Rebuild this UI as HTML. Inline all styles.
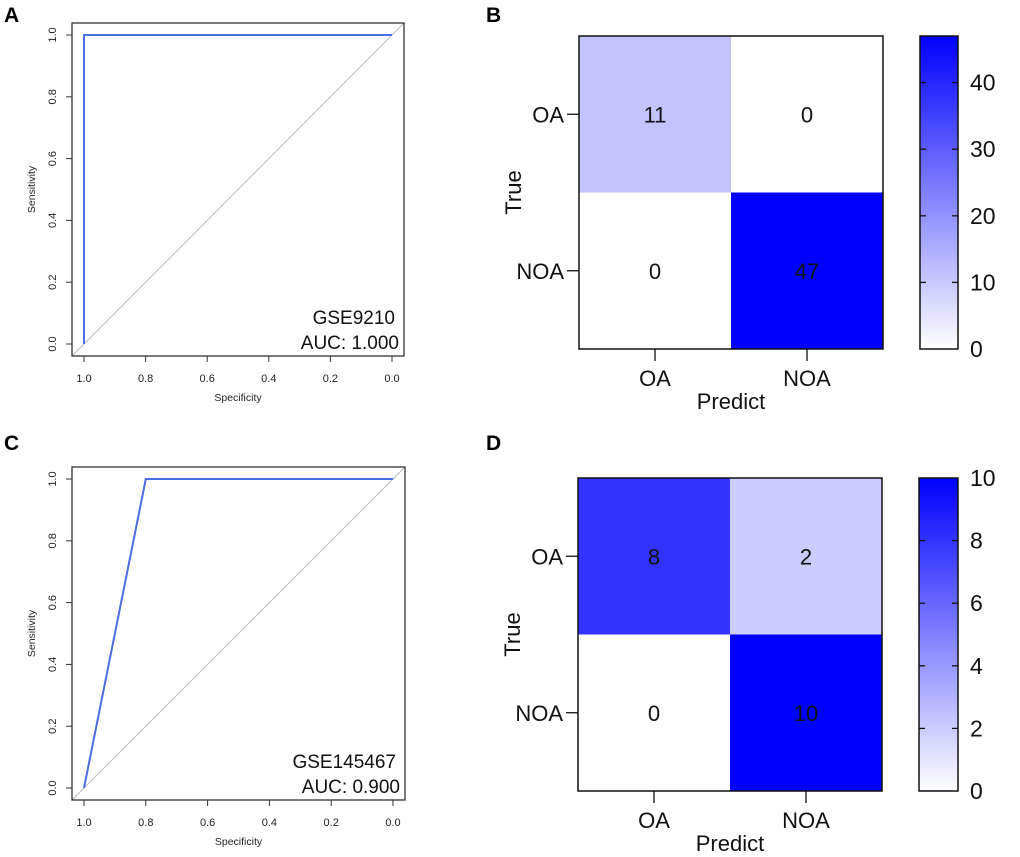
<!DOCTYPE html>
<html><head><meta charset="utf-8"><style>
html,body{margin:0;padding:0;background:#fff}
svg{display:block;font-family:"Liberation Sans",Arial,sans-serif}
</style></head><body>
<svg id="fig" width="1020" height="857" viewBox="0 0 1020 857" xmlns="http://www.w3.org/2000/svg">
<defs>
<linearGradient id="cbar" x1="0" y1="1" x2="0" y2="0"><stop offset="0" stop-color="#fff"/><stop offset="1" stop-color="#0000ff"/></linearGradient>
</defs>
<text x="4" y="22" font-size="21" font-weight="bold">A</text>
<text x="486" y="22" font-size="21" font-weight="bold">B</text>
<text x="4" y="450" font-size="21" font-weight="bold">C</text>
<text x="486" y="450" font-size="21" font-weight="bold">D</text>
</svg>
<script>
// ROC data
const rocSpecA = [1.0, 1.0, 0.0];
const rocSensA = [0.0, 1.0, 1.0];
const rocSpecC = [1.0, 0.8, 0.0];
const rocSensC = [0.0, 1.0, 1.0];
const rocTicks = [1.0, 0.8, 0.6, 0.4, 0.2, 0.0];
const rocTickLabels = ["1.0", "0.8", "0.6", "0.4", "0.2", "0.0"];
// Confusion matrices (rows: True OA, NOA; cols: Predict OA, NOA)
const classLabels = ["OA", "NOA"];
const cmB = [[11, 0], [0, 47]];
const cmD = [[8, 2], [0, 10]];
const cbTicksB = [0, 10, 20, 30, 40];
const cbTicksD = [0, 2, 4, 6, 8, 10];

const NS = "http://www.w3.org/2000/svg";
const svg = document.getElementById("fig");
function el(tag, attrs, parent) {
  const e = document.createElementNS(NS, tag);
  for (const k in attrs) e.setAttribute(k, attrs[k]);
  (parent || svg).appendChild(e);
  return e;
}

function roc(box, spec, sens, dataset, auc, key) {
  const g = el("g", {});
  
  
  const x0 = box.x + 12, x1 = box.x + box.w - 12;
  const y0 = box.y + box.h - 12, y1 = box.y + 12;
  const sx = v => x0 + (1 - v) * (x1 - x0);
  const sy = v => y0 - v * (y0 - y1);
  const diag = el("line", {x1: sx(1.04), y1: sy(-0.04), x2: sx(-0.04), y2: sy(1.04), stroke: "#bdbdbd", "stroke-width": 1}, g);
  
  
  const pts = spec.map((s, i) => sx(s) + "," + sy(sens[i])).join(" ");
  const line = el("polyline", {points: pts, fill: "none", stroke: "#4a6fe3", "stroke-width": 2}, g);
  
  
  const frame = el("rect", {x: box.x, y: box.y, width: box.w, height: box.h, fill: "none", stroke: "#333", "stroke-width": 1.3}, g);
  
  
  rocTicks.forEach((t, i) => {
    el("line", {x1: sx(t), y1: box.y + box.h, x2: sx(t), y2: box.y + box.h + 6, stroke: "#333"}, g);
    const xl = el("text", {x: sx(t), y: box.y + box.h + 26, "font-size": 11, "text-anchor": "middle", fill: "#222"}, g);
    xl.textContent = rocTickLabels[i];
    
    
    el("line", {x1: box.x, y1: sy(t), x2: box.x - 6, y2: sy(t), stroke: "#333"}, g);
    const yl = el("text", {x: 0, y: 0, "font-size": 11, "text-anchor": "middle", fill: "#222", transform: `translate(${box.x - 16},${sy(t)}) rotate(-90)`}, g);
    yl.textContent = rocTickLabels[i];
    
    
  });
  const xt = el("text", {x: box.x + box.w / 2, y: box.y + box.h + 45, "font-size": 10.5, "text-anchor": "middle", fill: "#222"}, g);
  xt.textContent = "Specificity";
  
  
  const yt = el("text", {x: 0, y: 0, "font-size": 10.5, "text-anchor": "middle", fill: "#222", transform: `translate(${box.x - 37},${box.y + box.h / 2}) rotate(-90)`}, g);
  yt.textContent = "Sensitivity";
  
  
  const d1 = el("text", {x: box.x + box.w - 9, y: box.y + box.h - 32, "font-size": 19, "text-anchor": "end", fill: "#111"}, g);
  d1.textContent = dataset;
  
  
  const d2 = el("text", {x: box.x + box.w - 5, y: box.y + box.h - 7, "font-size": 19, "text-anchor": "end", fill: "#111"}, g);
  d2.textContent = "AUC: " + auc;
  
  
}

function cm(box, cb, mat, ticks, key) {
  const g = el("g", {});
  
  
  const max = Math.max(...mat.flat());
  const cw = box.w / 2, ch = box.h / 2;
  const col = v => { const c = Math.round(255 * (1 - v / max)); return `rgb(${c},${c},255)`; };
  mat.forEach((row, r) => row.forEach((v, c) => {
    const cell = el("rect", {x: box.x + c * cw, y: box.y + r * ch, width: cw, height: ch, fill: col(v)}, g);
    
    
    const t = el("text", {x: box.x + c * cw + cw / 2, y: box.y + r * ch + ch / 2 + 8, "font-size": 22, "text-anchor": "middle", fill: "#111"}, g);
    t.textContent = v;
    
    
  }));
  const fr = el("rect", {x: box.x, y: box.y, width: box.w, height: box.h, fill: "none", stroke: "#111", "stroke-width": 1.5}, g);
  
  
  classLabels.forEach((lab, i) => {
    const cy = box.y + i * ch + ch / 2;
    el("line", {x1: box.x, y1: cy, x2: box.x - 12, y2: cy, stroke: "#111", "stroke-width": 1.3}, g);
    const yl = el("text", {x: box.x - 15, y: cy + 8, "font-size": 22, "text-anchor": "end", fill: "#111"}, g);
    yl.textContent = lab;
    
    
    const cx = box.x + i * cw + cw / 2;
    el("line", {x1: cx, y1: box.y + box.h, x2: cx, y2: box.y + box.h + 12, stroke: "#111", "stroke-width": 1.3}, g);
    const xl = el("text", {x: cx, y: box.y + box.h + 37, "font-size": 22, "text-anchor": "middle", fill: "#111"}, g);
    xl.textContent = lab;
    
    
  });
  const xt = el("text", {x: box.x + box.w / 2, y: box.y + box.h + 60, "font-size": 22, "text-anchor": "middle", fill: "#111"}, g);
  xt.textContent = "Predict";
  
  
  const yt = el("text", {x: 0, y: 0, "font-size": 22, "text-anchor": "middle", fill: "#111", transform: `translate(${box.x - 58},${box.y + box.h / 2}) rotate(-90)`}, g);
  yt.textContent = "True";
  
  
  const bar = el("rect", {x: cb.x, y: box.y, width: cb.w, height: box.h, fill: "url(#cbar)", stroke: "#111", "stroke-width": 1.5}, g);
  
  
  const syc = v => box.y + box.h - v / max * box.h;
  ticks.forEach(t => {
    const y = syc(t);
    if (t > 0 && t < max) {
      el("line", {x1: cb.x, y1: y, x2: cb.x + 6, y2: y, stroke: "#111", "stroke-width": 1.3}, g);
      el("line", {x1: cb.x + cb.w, y1: y, x2: cb.x + cb.w - 6, y2: y, stroke: "#111", "stroke-width": 1.3}, g);
    }
    const tl = el("text", {x: cb.x + cb.w + 12, y: y + 8, "font-size": 23, fill: "#111"}, g);
    tl.textContent = t;
    
    
  });
}

roc({x: 72, y: 23, w: 332, h: 333}, rocSpecA, rocSensA, "GSE9210", "1.000", "a");
roc({x: 72, y: 467, w: 333, h: 333}, rocSpecC, rocSensC, "GSE145467", "0.900", "c");
cm({x: 579, y: 36, w: 304, h: 313}, {x: 920, w: 38}, cmB, cbTicksB, "b");
cm({x: 578, y: 478, w: 304, h: 313}, {x: 919, w: 39}, cmD, cbTicksD, "d");
</script>
</body></html>
